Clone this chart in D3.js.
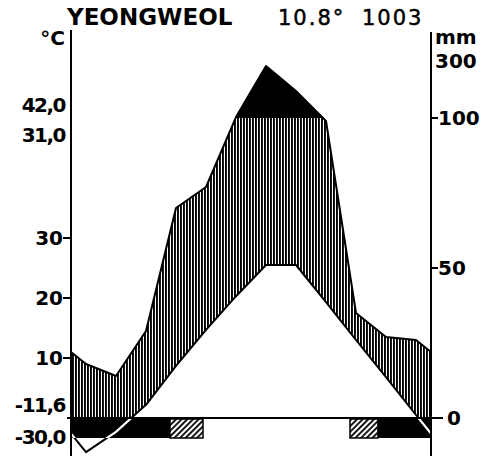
<!DOCTYPE html>
<html>
<head>
<meta charset="utf-8">
<script src="https://cdn.jsdelivr.net/npm/d3@7"></script>
<style>
	body { margin: 0; background: #fff; }
	svg { display: block; }
	.label { font-family: "DejaVu Sans", sans-serif; font-weight: bold; font-size: 20px; fill: #000; }
	.title { font-family: "DejaVu Sans", sans-serif; font-weight: bold; font-size: 23px; fill: #000; }
	.title-num { font-family: "DejaVu Sans", sans-serif; font-size: 21px; letter-spacing: 2px; fill: #000; stroke: #000; stroke-width: 0.5; }
	.axis { stroke: #000; stroke-width: 2; }
	.curve { fill: none; stroke: #000; stroke-width: 2; stroke-linejoin: round; }
</style>
</head>
<body>
<script>
const station = "YEONGWEOL";
const meanTemp = "10.8°";
const annualPrecip = "1003";

const months = ["Jan", "Feb", "Mar", "Apr", "May", "Jun", "Jul", "Aug", "Sep", "Oct", "Nov", "Dec"];
const temperature = [-5.7, -2.3, 2.2, 8.7, 14.7, 20.3, 25.5, 25.5, 19.3, 13.0, 6.8, 0.5];
const precipitation = [18, 14, 29, 70, 77, 103, 273, 190, 99, 35, 27, 26];

const tempTicks = [10, 20, 30];
const precipTicks = [50, 100];
const extremeLabels = ["42,0", "31,0", "-11,6", "-30,0"];

// frost bar, in months from the start of January
const frostCertain = [[0, 3.3], [10.23, 12]];
const frostProbable = [[3.3, 4.4], [9.3, 10.23]];

const config = {
	width: 491,
	height: 456,
	left: 71,
	right: 431,
	zeroY: 418,
	humidTop: 118,
	topY: 58,
	barHeight: 20
};

const svg = d3.select("body").append("svg")
	.attr("width", config.width)
	.attr("height", config.height);

const x = d3.scaleLinear().domain([0, 12]).range([config.left, config.right]);
const yT = d3.scaleLinear().domain([0, 50]).range([config.zeroY, config.humidTop]);
const yP = d3.scaleLinear().domain([0, 100, 300]).range([config.zeroY, config.humidTop, config.topY]);

// points at mid-month, plus the Dec/Jan value on both edges
const edgeT = (temperature[11] + temperature[0]) / 2;
const edgeP = (precipitation[11] + precipitation[0]) / 2;
const points = [{ m: 0, t: edgeT, p: edgeP }]
	.concat(months.map((d, i) => ({ m: i + 0.5, t: temperature[i], p: precipitation[i] })))
	.concat([{ m: 12, t: edgeT, p: edgeP }]);

const defs = svg.append("defs");

defs.append("pattern")
	.attr("id", "vlines")
	.attr("patternUnits", "userSpaceOnUse")
	.attr("width", 3).attr("height", 3)
	.append("rect")
	.attr("x", 0).attr("y", 0).attr("width", 1.9).attr("height", 3)
	.attr("fill", "#000");

const diag = defs.append("pattern")
	.attr("id", "diag")
	.attr("patternUnits", "userSpaceOnUse")
	.attr("width", 4).attr("height", 4)
	.attr("patternTransform", "rotate(45)");
diag.append("rect").attr("width", 4).attr("height", 4).attr("fill", "#fff");
diag.append("rect").attr("width", 1.8).attr("height", 4).attr("fill", "#000");

defs.append("clipPath").attr("id", "humidClip")
	.append("rect")
	.attr("x", x(0)).attr("y", yP(100))
	.attr("width", x(12) - x(0)).attr("height", yP(0) - yP(100));

defs.append("clipPath").attr("id", "wetClip")
	.append("rect")
	.attr("x", x(0)).attr("y", 0)
	.attr("width", x(12) - x(0)).attr("height", yP(100));

const barClip = defs.append("clipPath").attr("id", "barClip");
frostCertain.forEach(([a, b]) => {
	barClip.append("rect")
		.attr("x", x(a)).attr("y", yP(0))
		.attr("width", x(b) - x(a)).attr("height", config.barHeight);
});

// humid season, vertical hatching
svg.append("path")
	.datum(points)
	.attr("clip-path", "url(#humidClip)")
	.attr("fill", "url(#vlines)")
	.attr("d", d3.area().x(d => x(d.m)).y0(d => yT(d.t)).y1(d => yP(d.p)));

// over 100 mm, solid black
svg.append("path")
	.datum(points)
	.attr("clip-path", "url(#wetClip)")
	.attr("fill", "#000")
	.attr("d", d3.area().x(d => x(d.m)).y0(yP(0)).y1(d => yP(d.p)));

const tempLine = d3.line().x(d => x(d.m)).y(d => yT(d.t));
const precipLine = d3.line().x(d => x(d.m)).y(d => yP(d.p));

svg.append("path").datum(points).attr("class", "curve").attr("d", precipLine);
svg.append("path").datum(points).attr("class", "curve").attr("d", tempLine);

// frost bar
frostCertain.forEach(([a, b]) => {
	svg.append("rect")
		.attr("x", x(a)).attr("y", yP(0))
		.attr("width", x(b) - x(a)).attr("height", config.barHeight)
		.attr("fill", "#000");
});
frostProbable.forEach(([a, b]) => {
	svg.append("rect")
		.attr("x", x(a)).attr("y", yP(0) + 1)
		.attr("width", x(b) - x(a)).attr("height", config.barHeight - 1)
		.attr("fill", "url(#diag)")
		.attr("stroke", "#000").attr("stroke-width", 1.5);
});

svg.append("path").datum(points)
	.attr("clip-path", "url(#barClip)")
	.attr("fill", "none").attr("stroke", "#fff").attr("stroke-width", 2.2)
	.attr("d", tempLine);

// axes
svg.append("line").attr("class", "axis")
	.attr("x1", x(0)).attr("x2", x(0)).attr("y1", 30).attr("y2", config.height);
svg.append("line").attr("class", "axis")
	.attr("x1", x(12)).attr("x2", x(12)).attr("y1", 32).attr("y2", config.height);
svg.append("line").attr("class", "axis").attr("stroke-width", 2.5)
	.attr("x1", x(0) - 4).attr("x2", x(12) + 12).attr("y1", yP(0)).attr("y2", yP(0));

tempTicks.forEach(t => {
	svg.append("line").attr("class", "axis")
		.attr("x1", x(0) - 8).attr("x2", x(0)).attr("y1", yT(t)).attr("y2", yT(t));
	svg.append("text").attr("class", "label")
		.attr("x", x(0) - 8).attr("y", yT(t)).attr("dy", "0.36em")
		.attr("text-anchor", "end").text(t);
});

precipTicks.forEach(p => {
	svg.append("line").attr("class", "axis")
		.attr("x1", x(12)).attr("x2", x(12) + 7).attr("y1", yP(p)).attr("y2", yP(p));
	svg.append("text").attr("class", "label")
		.attr("x", x(12) + 7).attr("y", yP(p)).attr("dy", "0.36em")
		.text(p);
});

svg.append("text").attr("class", "label")
	.attr("x", x(12) + 16).attr("y", yP(0)).attr("dy", "0.36em").text("0");
svg.append("text").attr("class", "label")
	.attr("x", x(12) + 4).attr("y", 68).text("300");
svg.append("text").attr("class", "label")
	.attr("x", x(12) + 4).attr("y", 44).text("mm");
svg.append("text").attr("class", "label")
	.attr("x", x(0) - 6).attr("y", 45).attr("text-anchor", "end").text("°C");

// extreme values on the left
const extremeY = [105, 135, 405, 437];
extremeLabels.forEach((s, i) => {
	svg.append("text").attr("class", "label")
		.attr("x", x(0) - 6).attr("y", extremeY[i]).attr("dy", "0.36em")
		.attr("text-anchor", "end").attr("letter-spacing", -1.5)
		.text(s);
});

// title
svg.append("text").attr("class", "title").attr("x", 67).attr("y", 25).text(station);
svg.append("text").attr("class", "title-num").attr("x", 278).attr("y", 25).text(meanTemp);
svg.append("text").attr("class", "title-num").attr("x", 362).attr("y", 25).text(annualPrecip);
</script>
</body>
</html>
